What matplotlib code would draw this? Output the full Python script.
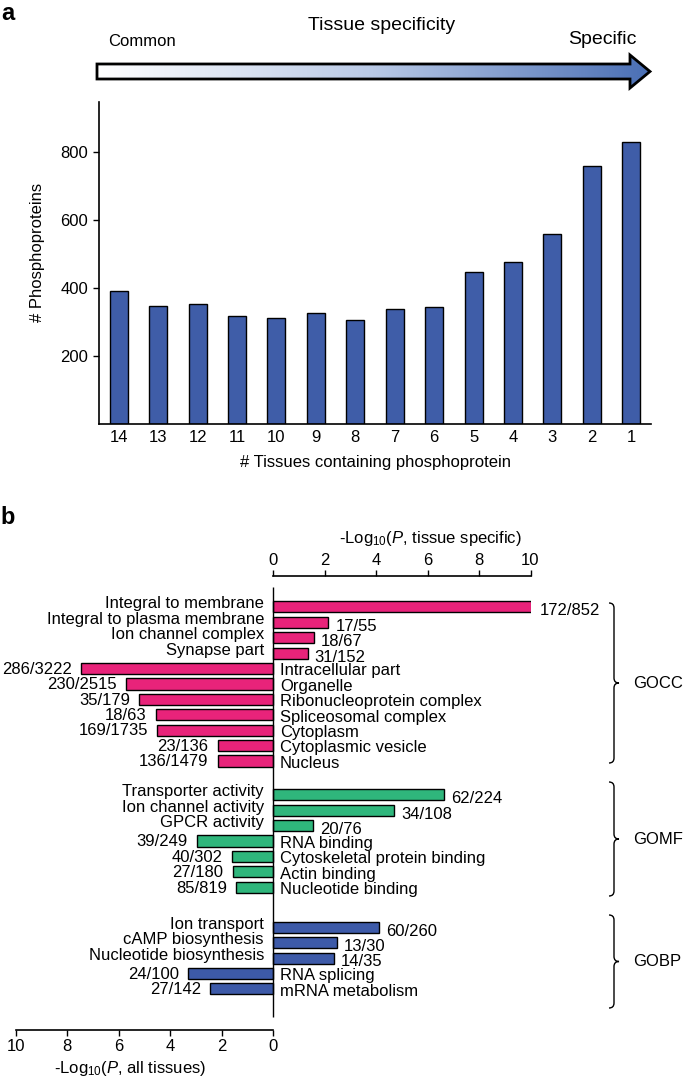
import numpy as np
import matplotlib.pyplot as plt
from matplotlib.patches import Polygon, PathPatch
from matplotlib.path import Path
from matplotlib.colors import LinearSegmentedColormap

plt.rcParams['font.family'] = ['Liberation Sans', 'DejaVu Sans']
plt.rcParams['font.size'] = 12
plt.rcParams['mathtext.fontset'] = 'custom'
plt.rcParams['mathtext.rm'] = 'Liberation Sans'
plt.rcParams['mathtext.it'] = 'Liberation Sans:italic'

# panel a
tissues = ['14', '13', '12', '11', '10', '9', '8', '7', '6', '5', '4', '3', '2', '1']
phospho_counts = [392, 346, 354, 319, 312, 326, 305, 339, 343, 447, 476, 559, 760, 829]

# panel b: positive = -log10(P, tissue specific), negative = -log10(P, all tissues)
gocc_terms = ['Integral to membrane', 'Integral to plasma membrane', 'Ion channel complex',
              'Synapse part', 'Intracellular part', 'Organelle', 'Ribonucleoprotein complex',
              'Spliceosomal complex', 'Cytoplasm', 'Cytoplasmic vesicle', 'Nucleus']
gocc_logp = [10.1, 2.15, 1.6, 1.35, -7.45, -5.7, -5.2, -4.55, -4.5, -2.15, -2.15]
gocc_counts = ['172/852', '17/55', '18/67', '31/152', '286/3222', '230/2515', '35/179',
               '18/63', '169/1735', '23/136', '136/1479']

gomf_terms = ['Transporter activity', 'Ion channel activity', 'GPCR activity', 'RNA binding',
              'Cytoskeletal protein binding', 'Actin binding', 'Nucleotide binding']
gomf_logp = [6.65, 4.7, 1.56, -2.96, -1.61, -1.57, -1.44]
gomf_counts = ['62/224', '34/108', '20/76', '39/249', '40/302', '27/180', '85/819']

gobp_terms = ['Ion transport', 'cAMP biosynthesis', 'Nucleotide biosynthesis', 'RNA splicing',
              'mRNA metabolism']
gobp_logp = [4.12, 2.49, 2.37, -3.3, -2.45]
gobp_counts = ['60/260', '13/30', '14/35', '24/100', '27/142']

W, H = 685, 1083
fig = plt.figure(figsize=(W / 100, H / 100), dpi=100)


def px_axes(left, top, right, bottom):
    return fig.add_axes([left / W, 1 - bottom / H, (right - left) / W, (bottom - top) / H])


# ---- panel a bars
ax1 = px_axes(99, 102, 651, 424)
x = np.arange(len(tissues))
ax1.bar(x, phospho_counts, width=0.46, color='#3F5DA8', edgecolor='black', linewidth=1)
ax1.set_xlim(-0.5, 13.5)
ax1.set_ylim(0, 947)
ax1.set_xticks(x, tissues)
ax1.set_yticks([200, 400, 600, 800])
ax1.tick_params(axis='x', length=0, pad=4, labelsize=12)
ax1.tick_params(axis='y', length=4.3, width=1, pad=3.5, labelsize=12)
for s in ['top', 'right']:
    ax1.spines[s].set_visible(False)
for s in ['left', 'bottom']:
    ax1.spines[s].set_linewidth(1.2)

# ---- panel b bars
ax2 = px_axes(15.5, 576, 530.5, 1030)
ax2.set_xlim(-10, 10)
ax2.set_ylim(27.47, -2.01)

groups = [
    (gocc_terms, gocc_logp, gocc_counts, np.arange(11), '#E8237A'),
    (gomf_terms, gomf_logp, gomf_counts, 12.2 + np.arange(7), '#2FB67C'),
    (gobp_terms, gobp_logp, gobp_counts, 20.8 + np.arange(5), '#3D5AA8'),
]
for terms, vals, counts, pos, color in groups:
    ax2.barh(pos, vals, height=0.72, color=color, edgecolor='black', linewidth=1)
    for t, v, c, y in zip(terms, vals, counts, pos):
        if v > 0:
            ax2.text(-0.35, y - 0.2, t, ha='right', va='center', fontsize=12)
            ax2.text(v + 0.27, y + 0.25, c, ha='left', va='center', fontsize=12)
        else:
            ax2.text(0.27, y + 0.15, t, ha='left', va='center', fontsize=12)
            ax2.text(v - 0.35, y + 0.05, c, ha='right', va='center', fontsize=12)

ax2.vlines(0, -1.3, 26.6, color='black', linewidth=1)
for s in ['top', 'left', 'right']:
    ax2.spines[s].set_visible(False)
ax2.spines['bottom'].set_bounds(-10, 0)
ax2.spines['bottom'].set_linewidth(1.2)
bt = np.arange(-10, 1, 2)
ax2.set_xticks(bt, [str(abs(v)) for v in bt])
ax2.set_yticks([])
ax2.tick_params(axis='x', direction='out', length=4, width=1, pad=2.5, labelsize=12)
ax2.patch.set_visible(False)

ax3 = ax2.twiny()
ax3.set_xlim(-10, 10)
for s in ['bottom', 'left', 'right']:
    ax3.spines[s].set_visible(False)
ax3.spines['top'].set_bounds(0, 10)
ax3.spines['top'].set_linewidth(1.2)
ax3.set_xticks(np.arange(0, 11, 2))
ax3.tick_params(axis='x', direction='out', length=4, width=1, pad=1.5, labelsize=12)
ax3.set_yticks([])
ax3.patch.set_visible(False)

# ---- overlay for arrow, free text and braces (pixel coordinates)
ov = fig.add_axes([0, 0, 1, 1])
ov.axis('off')

arrow_xy = [(97, 64), (630, 64), (630, 55), (650, 71.5), (630, 88), (630, 79), (97, 79)]
cmap = LinearSegmentedColormap.from_list('spec', ['#ffffff', '#b9c9e6', '#4a6fb5'])
grad = np.linspace(0, 1, 256).reshape(1, -1)
im = ov.imshow(grad, cmap=cmap, extent=(97, 650, 88, 55), aspect='auto')
arrow = Polygon(arrow_xy, closed=True, fill=False, edgecolor='black', linewidth=2,
                joinstyle='miter')
ov.add_patch(arrow)
im.set_clip_path(arrow)

ov.text(8, 13, 'a', fontsize=17, fontweight='bold', ha='center', va='center')
ov.text(142, 42, 'Common', fontsize=12, ha='center', va='center')
ov.text(382, 25, 'Tissue specificity', fontsize=14, ha='center', va='center')
ov.text(602, 40, 'Specific', fontsize=14, ha='center', va='center')
ov.text(38, 252, '# Phosphoproteins', fontsize=12, rotation=90, ha='center', va='center')
ov.text(376, 463, '# Tissues containing phosphoprotein', fontsize=12, ha='center', va='center')
ov.text(8, 518, 'b', fontsize=17, fontweight='bold', ha='center', va='center')
ov.text(430, 538, '-Log$_{10}$($P$, tissue specific)', fontsize=12, ha='center', va='center')
ov.text(130, 1068, '-Log$_{10}$($P$, all tissues)', fontsize=12, ha='center', va='center')


def brace(ax, x0, y0, y1, w=5):
    ym = (y0 + y1) / 2
    verts = [(x0, y0), (x0 + w, y0), (x0 + w, y0 + w),
             (x0 + w, ym - w), (x0 + w, ym), (x0 + 2 * w, ym),
             (x0 + w, ym), (x0 + w, ym + w),
             (x0 + w, y1 - w), (x0 + w, y1), (x0, y1)]
    codes = [Path.MOVETO, Path.CURVE3, Path.CURVE3, Path.LINETO, Path.CURVE3, Path.CURVE3,
             Path.CURVE3, Path.CURVE3, Path.LINETO, Path.CURVE3, Path.CURVE3]
    ax.add_patch(PathPatch(Path(verts, codes), fill=False, edgecolor='black', linewidth=1))
    return ym


for name, y0, y1 in [('GOCC', 603, 763), ('GOMF', 782, 896), ('GOBP', 915, 1008)]:
    ym = brace(ov, 609, y0, y1)
    ov.text(633, ym, name, fontsize=12, ha='left', va='center')

ov.set_xlim(0, W)
ov.set_ylim(H, 0)

fig.savefig('out.png', dpi=100)
